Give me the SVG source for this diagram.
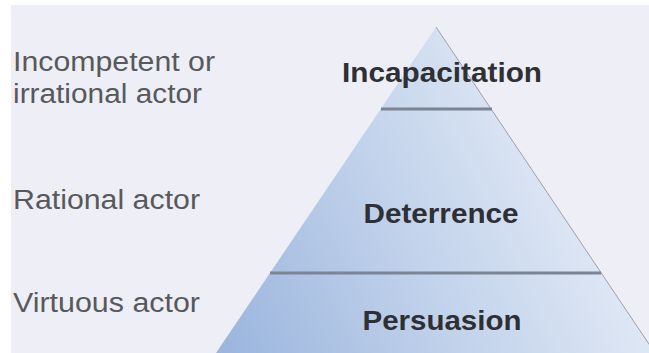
<svg xmlns="http://www.w3.org/2000/svg" width="649" height="353" viewBox="0 0 649 353">
  <defs>
    <linearGradient id="pyrGrad" gradientUnits="userSpaceOnUse" x1="225" y1="345" x2="630" y2="150">
      <stop offset="0" stop-color="#9cb6de"/>
      <stop offset="0.5" stop-color="#c4d4ec"/>
      <stop offset="1" stop-color="#eaeff8"/>
    </linearGradient>
    <style>
      .side { font-family: "Liberation Sans", Arial, sans-serif; font-size: 27px; fill: #58595d; }
      .tier { font-family: "Liberation Sans", Arial, sans-serif; font-size: 27px; font-weight: bold; fill: #2e3034; text-anchor: middle; }
      .divider { stroke: #7b8494; stroke-width: 3; fill: none; }
      .edge { stroke: #98a0ad; stroke-width: 1; fill: none; }
    </style>
  </defs>
  <rect x="0" y="0" width="649" height="353" fill="#ffffff"/>
  <rect x="11" y="5" width="638" height="348" fill="#eeeff6"/>

  <g id="pyramid">
    <polygon points="436,27 216,353 655,353" fill="url(#pyrGrad)"/>
    <line class="edge" x1="436" y1="27" x2="655" y2="353"/>
  </g>

  <g id="connectors">
    <line class="divider" x1="381" y1="109" x2="492" y2="109"/>
    <line class="divider" x1="270" y1="273" x2="601" y2="273"/>
  </g>

  <g id="tier-incapacitation">
    <text class="tier" x="442" y="82" textLength="200" lengthAdjust="spacingAndGlyphs">Incapacitation</text>
  </g>
  <g id="tier-deterrence">
    <text class="tier" x="441" y="223" textLength="155" lengthAdjust="spacingAndGlyphs">Deterrence</text>
  </g>
  <g id="tier-persuasion">
    <text class="tier" x="442" y="330" textLength="159" lengthAdjust="spacingAndGlyphs">Persuasion</text>
  </g>

  <g id="label-incompetent">
    <text class="side" x="13" y="71" textLength="202" lengthAdjust="spacingAndGlyphs">Incompetent or</text>
    <text class="side" x="13" y="103" textLength="189" lengthAdjust="spacingAndGlyphs">irrational actor</text>
  </g>
  <g id="label-rational">
    <text class="side" x="13" y="209" textLength="187" lengthAdjust="spacingAndGlyphs">Rational actor</text>
  </g>
  <g id="label-virtuous">
    <text class="side" x="13" y="312" textLength="187" lengthAdjust="spacingAndGlyphs">Virtuous actor</text>
  </g>
</svg>
